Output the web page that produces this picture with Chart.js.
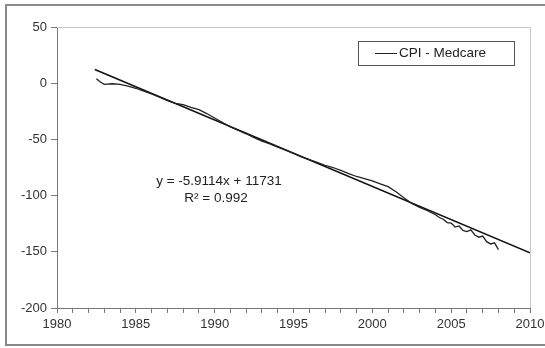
<!DOCTYPE html>
<html>
<head>
<meta charset="utf-8">
<script src="https://cdn.jsdelivr.net/npm/chart.js@4"></script>
<style>
html, body { margin: 0; padding: 0; background: #fff; }
#wrap { position: relative; width: 545px; height: 348px; }
</style>
</head>
<body>
<div id="wrap"><canvas id="chart" width="545" height="348"></canvas></div>
<script>
// CPI - Medcare
const years = [
    1982.5, 1982.75, 1983, 1983.5, 1984, 1984.5, 1985, 1985.5, 1986, 1986.5,
    1987, 1987.5, 1988, 1988.5, 1989, 1989.5, 1990, 1990.5, 1991, 1991.5,
    1992, 1992.5, 1993, 1993.5, 1994, 1994.5, 1995, 1995.5, 1996, 1996.5,
    1997, 1997.5, 1998, 1998.5, 1999, 1999.5, 2000, 2000.5, 2001, 2001.5,
    2002, 2002.5, 2003, 2003.5, 2004, 2004.25, 2004.5, 2004.75, 2005, 2005.25,
    2005.5, 2005.75, 2006, 2006.25, 2006.5, 2006.75, 2007, 2007.25, 2007.5, 2007.75,
    2008
];
const cpiMedcare = [
    4, 1, -1, -0.5, -1, -2.5, -4.5, -7, -9.5, -12.5,
    -15.5, -18, -19, -21.5, -23.5, -27, -31, -35, -39, -42,
    -45, -48.5, -51.5, -54, -57, -59.5, -62.5, -65.5, -68, -70.5,
    -73, -75, -77.5, -80.5, -83, -85, -87, -89.5, -92, -96.5,
    -102, -107, -110.5, -113.5, -117, -119.5, -121, -124, -124.5, -128,
    -127, -131, -132, -130.5, -135, -137, -136, -141, -143, -142,
    -148
];

// linear trend, end points
const trendYears = [1982.4, 2010];
const trendValues = [12.2, -150.9];

const equationText = 'y = -5.9114x + 11731';
const r2Text = 'R\u00B2 = 0.992';

const FONT = '"Liberation Sans", Arial, sans-serif';

const excelDecor = {
    id: 'excelDecor',
    beforeDraw(chart) {
        const ctx = chart.ctx;
        ctx.save();
        ctx.fillStyle = '#fff';
        ctx.fillRect(0, 0, chart.width, chart.height);
        // outer frame
        ctx.strokeStyle = '#8a8a8a';
        ctx.lineWidth = 2;
        ctx.strokeRect(6, 5, chart.width + 10, chart.height - 8);
        ctx.restore();
    },
    beforeDatasetsDraw(chart) {
        const a = chart.chartArea;
        const ctx = chart.ctx;
        ctx.save();
        ctx.strokeStyle = '#c8c8c8';
        ctx.lineWidth = 1;
        ctx.beginPath();
        ctx.moveTo(a.left, a.top + 0.5);
        ctx.lineTo(a.right + 0.5, a.top + 0.5);
        ctx.lineTo(a.right + 0.5, a.bottom);
        ctx.stroke();
        ctx.restore();
    },
    afterDraw(chart) {
        const a = chart.chartArea;
        const ctx = chart.ctx;
        ctx.save();

        // legend box
        const bx = a.right - 172, by = a.top + 14, bw = 156, bh = 24;
        ctx.strokeStyle = '#555';
        ctx.lineWidth = 1;
        ctx.strokeRect(bx + 0.5, by + 0.5, bw, bh);
        ctx.strokeStyle = '#222';
        ctx.beginPath();
        ctx.moveTo(bx + 17, by + 12.5);
        ctx.lineTo(bx + 39, by + 12.5);
        ctx.stroke();
        ctx.fillStyle = '#222';
        ctx.font = '13.5px ' + FONT;
        ctx.textBaseline = 'middle';
        ctx.textAlign = 'left';
        ctx.fillText(chart.data.datasets[0].label, bx + 41, by + 12.5);

        // trend equation
        ctx.textAlign = 'center';
        ctx.fillText(equationText, 219, 181);
        ctx.fillText(r2Text, 216, 198);
        ctx.restore();
    }
};

new Chart(document.getElementById('chart'), {
    type: 'scatter',
    data: {
        datasets: [{
            label: 'CPI - Medcare',
            data: years.map((y, i) => ({ x: y, y: cpiMedcare[i] })),
            showLine: true,
            borderColor: '#222',
            borderWidth: 1.3,
            pointRadius: 0,
            tension: 0
        }, {
            label: 'Linear (CPI - Medcare)',
            data: trendYears.map((y, i) => ({ x: y, y: trendValues[i] })),
            showLine: true,
            borderColor: '#111',
            borderWidth: 1.6,
            pointRadius: 0
        }]
    },
    options: {
        responsive: false,
        animation: false,
        layout: {
            padding: { left: 0, top: 27, right: 15, bottom: 0 }
        },
        plugins: {
            legend: { display: false },
            tooltip: { enabled: false }
        },
        scales: {
            x: {
                type: 'linear',
                min: 1980,
                max: 2010,
                afterFit: (scale) => {
                    scale.height = 40;
                    scale.paddingLeft = 0;
                    scale.paddingRight = 0;
                },
                border: { color: '#777', width: 1 },
                grid: {
                    drawOnChartArea: false,
                    drawTicks: true,
                    tickLength: 5,
                    color: '#777'
                },
                ticks: {
                    stepSize: 1,
                    autoSkip: false,
                    maxRotation: 0,
                    padding: 4,
                    color: '#333',
                    font: { family: FONT, size: 13 },
                    callback: (v) => (v % 5 === 0 ? String(v) : '')
                }
            },
            y: {
                min: -200,
                max: 50,
                afterFit: (scale) => {
                    scale.width = 57;
                    scale.paddingTop = 0;
                    scale.paddingBottom = 0;
                },
                border: { color: '#777', width: 1 },
                grid: {
                    drawOnChartArea: false,
                    drawTicks: true,
                    tickLength: 6,
                    color: '#777'
                },
                ticks: {
                    stepSize: 50,
                    padding: 4,
                    color: '#333',
                    font: { family: FONT, size: 13 }
                }
            }
        }
    },
    plugins: [excelDecor]
});
</script>
</body>
</html>
